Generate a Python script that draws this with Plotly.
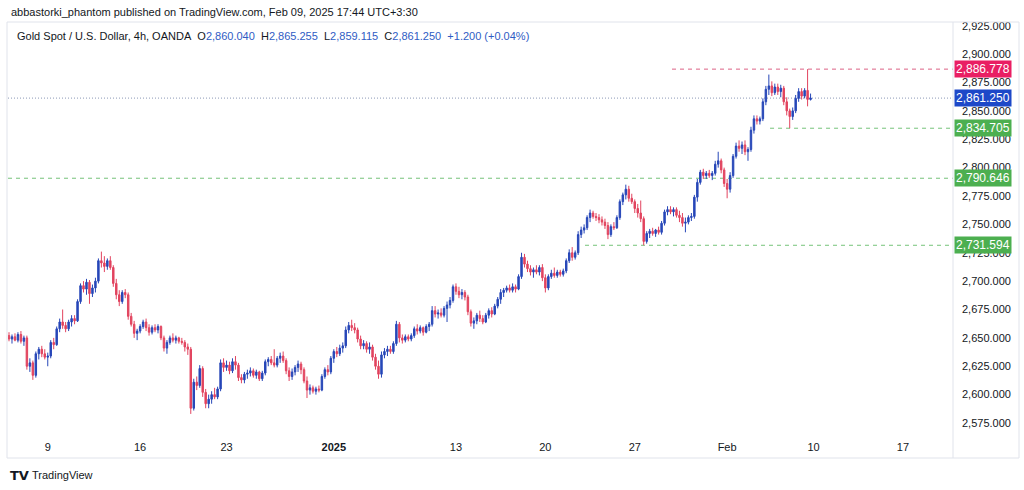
import plotly.graph_objects as go

# ---------------- data (4h bars) ----------------
opens = [
    2652, 2649, 2651, 2648, 2653, 2647, 2650, 2625, 2628, 2617,
    2636, 2640, 2636, 2633, 2634, 2646, 2644, 2658, 2664, 2661,
    2658, 2664, 2667, 2665, 2682, 2696, 2693, 2699, 2689, 2694,
    2700, 2718, 2716, 2713, 2718, 2712, 2698, 2688, 2682, 2690,
    2688, 2669, 2662, 2654, 2656, 2660, 2664, 2659, 2655, 2659,
    2657, 2660, 2650, 2641, 2646, 2650, 2648, 2650, 2647, 2646,
    2642, 2640, 2588, 2611, 2608, 2623, 2602, 2592, 2596, 2600,
    2598, 2605, 2628, 2624, 2626, 2621, 2629, 2626, 2615, 2613,
    2618, 2619, 2621, 2617, 2620, 2614, 2619, 2629, 2631, 2628,
    2626, 2632, 2634, 2630, 2621, 2616, 2620, 2624, 2627, 2622,
    2612, 2604, 2606, 2603, 2605, 2604, 2616, 2622, 2620, 2632,
    2638, 2636, 2641, 2643, 2657, 2661, 2659, 2657, 2649, 2643,
    2645, 2640, 2642, 2633, 2625, 2618, 2635, 2638, 2640, 2638,
    2645, 2662, 2650, 2648, 2651, 2649, 2652, 2658, 2656, 2659,
    2655, 2660, 2662, 2674, 2671, 2672, 2670, 2676, 2679, 2683,
    2695, 2691, 2688, 2690, 2686, 2673, 2663, 2665, 2670, 2667,
    2664, 2670, 2674, 2671, 2678, 2684, 2690, 2692, 2694, 2692,
    2695, 2693, 2704, 2721, 2715, 2711, 2708, 2710, 2708, 2712,
    2703, 2694, 2704, 2707, 2705, 2708, 2706, 2709, 2718, 2725,
    2721, 2725, 2741, 2745, 2747, 2756, 2760, 2757, 2756, 2754,
    2752, 2749, 2741, 2748, 2747, 2756, 2770, 2776, 2781, 2773,
    2770, 2764, 2760, 2755, 2735, 2742, 2744, 2742, 2745, 2743,
    2751, 2761, 2763, 2761, 2763, 2758, 2756, 2751, 2752, 2756,
    2757, 2774, 2787, 2796, 2793, 2795, 2793, 2795, 2803, 2806,
    2798, 2786, 2781, 2793, 2810, 2819, 2817, 2820, 2814, 2816,
    2833, 2843, 2841, 2843, 2858, 2869, 2872, 2866, 2871, 2867,
    2870, 2858, 2850, 2845, 2850, 2861, 2867, 2863, 2868, 2860.040,
]
highs = [
    2655, 2653, 2654, 2655, 2656, 2652, 2652, 2632, 2630, 2638,
    2642, 2643, 2640, 2637, 2648, 2650, 2660, 2667, 2675, 2664,
    2666, 2670, 2670, 2684, 2698, 2700, 2702, 2701, 2697, 2703,
    2720, 2726, 2722, 2720, 2722, 2714, 2702, 2692, 2692, 2693,
    2690, 2672, 2665, 2658, 2662, 2666, 2667, 2662, 2661, 2662,
    2662, 2661, 2652, 2648, 2652, 2654, 2652, 2651, 2650, 2648,
    2645, 2642, 2614, 2616, 2626, 2625, 2605, 2600, 2603, 2606,
    2607, 2631, 2632, 2630, 2629, 2632, 2634, 2628, 2618, 2620,
    2622, 2624, 2623, 2622, 2621, 2621, 2631, 2633, 2634, 2640,
    2634, 2637, 2638, 2632, 2624, 2623, 2626, 2630, 2629, 2624,
    2616, 2609, 2608, 2607, 2608, 2618, 2624, 2626, 2634, 2640,
    2642, 2644, 2646, 2660, 2664, 2666, 2663, 2659, 2652, 2648,
    2647, 2646, 2644, 2636, 2630, 2638, 2641, 2643, 2643, 2647,
    2665, 2664, 2653, 2653, 2653, 2654, 2660, 2662, 2661, 2660,
    2662, 2664, 2678, 2678, 2675, 2676, 2678, 2682, 2686, 2697,
    2698, 2695, 2693, 2692, 2688, 2675, 2668, 2672, 2674, 2670,
    2672, 2676, 2677, 2680, 2686, 2693, 2694, 2696, 2697, 2698,
    2697, 2706, 2725, 2724, 2718, 2714, 2712, 2714, 2714, 2715,
    2706, 2706, 2710, 2712, 2710, 2710, 2711, 2720, 2728, 2730,
    2727, 2744, 2748, 2750, 2758, 2763, 2762, 2760, 2759, 2757,
    2755, 2752, 2750, 2752, 2758, 2772, 2778, 2785, 2784, 2777,
    2772, 2768, 2771, 2757, 2744, 2746, 2747, 2746, 2748, 2753,
    2763, 2766, 2766, 2765, 2765, 2762, 2760, 2756, 2758, 2760,
    2776, 2790, 2798, 2799, 2797, 2798, 2797, 2806, 2814, 2808,
    2800, 2790, 2796, 2812, 2822, 2824, 2823, 2824, 2818, 2836,
    2846, 2846, 2845, 2861, 2872, 2882, 2876, 2874, 2874, 2873,
    2872, 2862, 2852, 2853, 2864, 2870, 2870, 2870, 2886.778, 2865.255,
]
lows = [
    2647, 2645, 2647, 2646, 2645, 2643, 2622, 2620, 2613, 2615,
    2631, 2633, 2631, 2625, 2632, 2640, 2643, 2655, 2658, 2655,
    2656, 2660, 2662, 2664, 2680, 2690, 2688, 2680, 2686, 2690,
    2698, 2712, 2708, 2710, 2710, 2695, 2684, 2678, 2680, 2685,
    2666, 2660, 2650, 2648, 2654, 2658, 2656, 2652, 2653, 2655,
    2654, 2648, 2638, 2636, 2644, 2646, 2645, 2645, 2644, 2638,
    2635, 2583, 2586, 2604, 2606, 2598, 2588, 2588, 2592, 2596,
    2596, 2603, 2620, 2621, 2618, 2619, 2622, 2612, 2610, 2610,
    2614, 2616, 2615, 2614, 2612, 2612, 2617, 2625, 2626, 2624,
    2624, 2628, 2628, 2618, 2612, 2613, 2617, 2620, 2618, 2610,
    2597, 2600, 2601, 2600, 2602, 2603, 2614, 2617, 2618, 2628,
    2633, 2634, 2637, 2641, 2654, 2656, 2654, 2646, 2640, 2640,
    2637, 2636, 2630, 2622, 2614, 2615, 2632, 2634, 2636, 2636,
    2643, 2646, 2645, 2646, 2647, 2647, 2650, 2653, 2654, 2652,
    2654, 2656, 2660, 2668, 2667, 2668, 2668, 2664, 2676, 2681,
    2688, 2685, 2684, 2683, 2670, 2660, 2658, 2662, 2664, 2662,
    2663, 2667, 2668, 2670, 2676, 2680, 2686, 2690, 2690, 2690,
    2690, 2692, 2702, 2712, 2708, 2705, 2703, 2706, 2705, 2700,
    2690, 2692, 2702, 2703, 2703, 2704, 2704, 2707, 2716, 2718,
    2719, 2723, 2738, 2742, 2745, 2752, 2755, 2753, 2751, 2749,
    2746, 2737, 2739, 2745, 2746, 2754, 2767, 2772, 2770, 2768,
    2760, 2756, 2752, 2731.594, 2733, 2738, 2740, 2739, 2741, 2741,
    2749, 2758, 2759, 2757, 2756, 2752, 2748, 2743, 2750, 2753,
    2755, 2770, 2785, 2790, 2790, 2791, 2789, 2793, 2800, 2795,
    2783, 2773, 2778, 2791, 2808, 2814, 2812, 2811, 2806, 2814,
    2830, 2838, 2838, 2841, 2855, 2864, 2863, 2864, 2864, 2862,
    2855, 2846, 2834.705, 2842, 2848, 2858, 2860, 2861, 2854, 2859.115,
]
closes = [
    2649, 2651, 2648, 2653, 2647, 2650, 2625, 2628, 2617, 2636,
    2640, 2636, 2633, 2634, 2646, 2644, 2658, 2664, 2661, 2658,
    2664, 2667, 2665, 2682, 2696, 2693, 2699, 2689, 2694, 2700,
    2718, 2716, 2713, 2718, 2712, 2698, 2688, 2682, 2690, 2688,
    2669, 2662, 2654, 2656, 2660, 2664, 2659, 2655, 2659, 2657,
    2660, 2650, 2641, 2646, 2650, 2648, 2650, 2647, 2646, 2642,
    2640, 2588, 2611, 2608, 2623, 2602, 2592, 2596, 2600, 2598,
    2605, 2628, 2624, 2626, 2621, 2629, 2626, 2615, 2613, 2618,
    2619, 2621, 2617, 2620, 2614, 2619, 2629, 2631, 2628, 2626,
    2632, 2634, 2630, 2621, 2616, 2620, 2624, 2627, 2622, 2612,
    2604, 2606, 2603, 2605, 2604, 2616, 2622, 2620, 2632, 2638,
    2636, 2641, 2643, 2657, 2661, 2659, 2657, 2649, 2643, 2645,
    2640, 2642, 2633, 2625, 2618, 2635, 2638, 2640, 2638, 2645,
    2662, 2650, 2648, 2651, 2649, 2652, 2658, 2656, 2659, 2655,
    2660, 2662, 2674, 2671, 2672, 2670, 2676, 2679, 2683, 2695,
    2691, 2688, 2690, 2686, 2673, 2663, 2665, 2670, 2667, 2664,
    2670, 2674, 2671, 2678, 2684, 2690, 2692, 2694, 2692, 2695,
    2693, 2704, 2721, 2715, 2711, 2708, 2710, 2708, 2712, 2703,
    2694, 2704, 2707, 2705, 2708, 2706, 2709, 2718, 2725, 2721,
    2725, 2741, 2745, 2747, 2756, 2760, 2757, 2756, 2754, 2752,
    2749, 2741, 2748, 2747, 2756, 2770, 2776, 2781, 2773, 2770,
    2764, 2760, 2755, 2735, 2742, 2744, 2742, 2745, 2743, 2751,
    2761, 2763, 2761, 2763, 2758, 2756, 2751, 2752, 2756, 2757,
    2774, 2787, 2796, 2793, 2795, 2793, 2795, 2803, 2806, 2798,
    2786, 2781, 2793, 2810, 2819, 2817, 2820, 2814, 2816, 2833,
    2843, 2841, 2843, 2858, 2869, 2872, 2866, 2871, 2867, 2870,
    2858, 2850, 2845, 2850, 2861, 2867, 2863, 2868, 2860.05, 2861.25,
]
bar_index = list(range(len(closes)))

# time axis (bar index of each date label)
time_tick_bars = [13, 44, 73, 109, 150, 180, 210, 241, 270, 300]
time_tick_labels = ["9", "16", "23", "<b>2025</b>", "13", "20", "27", "Feb", "10", "17"]

# price axis ticks
price_ticks = [2575, 2600, 2625, 2650, 2675, 2700, 2725, 2750,
               2775, 2800, 2825, 2850, 2875, 2900, 2925]

# horizontal levels drawn on the chart (value, first bar of the line)
level_values = [2886.778, 2861.250, 2834.705, 2790.646, 2731.594]
level_start_bars = [222.5, None, 255.4, None, 193.3]
level_kinds = ["pink", "last", "green", "green", "green"]

# ---------------- styles ----------------
UP = "#2747b8"
DOWN = "#e2445f"
FONT = "Liberation Sans, Arial, sans-serif"
TXT = "#131722"
line_style = {
    "pink": dict(color="rgba(214,70,110,0.85)", width=1, dash="4px,4px"),
    "green": dict(color="rgba(102,187,106,0.9)", width=1, dash="4px,4px"),
    "last": dict(color="rgba(120,134,170,0.85)", width=1, dash="1px,2px"),
}
label_bg = {"pink": "#e91e63", "last": "#1d48c8", "green": "#4caf50"}

W_FIG, H_FIG = 1024, 490
L, R, T, B = 8, 71, 22, 57
PW = W_FIG - L - R
PH = H_FIG - T - B
x_range = [-0.34, 316.8]
y_range = [2566.2, 2928.3]


def px_x(px):
    return (px - L) / PW


def px_y(py):
    return (H_FIG - B - py) / PH


fig = go.Figure()
fig.add_trace(go.Candlestick(
    x=bar_index, open=opens, high=highs, low=lows, close=closes,
    increasing=dict(line=dict(color=UP, width=1), fillcolor=UP),
    decreasing=dict(line=dict(color=DOWN, width=1), fillcolor=DOWN),
    whiskerwidth=0, hoverinfo="skip", showlegend=False,
))

shapes = []
annotations = []
for v, s, k in zip(level_values, level_start_bars, level_kinds):
    shapes.append(dict(type="line", xref="x", yref="y",
                       x0=x_range[0] if s is None else s, x1=x_range[1],
                       y0=v, y1=v, line=line_style[k], layer="below"))
    annotations.append(dict(xref="paper", yref="y", x=1, y=v, xanchor="left",
                            yanchor="middle", xshift=1, showarrow=False,
                            text=f"{v:,.3f}", bgcolor=label_bg[k], borderpad=1,
                            font=dict(family=FONT, size=12, color="white")))

# frame lines
shapes.append(dict(type="line", xref="paper", yref="paper", x0=1, x1=1,
                   y0=px_y(458), y1=1, line=dict(color="#e0e3eb", width=1)))
shapes.append(dict(type="rect", xref="paper", yref="paper",
                   x0=px_x(7), x1=px_x(1019), y0=px_y(458), y1=1,
                   line=dict(color="#e0e3eb", width=1), fillcolor="rgba(0,0,0,0)"))

# header texts
annotations.append(dict(xref="paper", yref="paper", x=px_x(9), y=px_y(12),
                        xanchor="left", yanchor="middle", showarrow=False,
                        text="abbastorki_phantom published on TradingView.com, Feb 09, 2025 17:44 UTC+3:30",
                        font=dict(family=FONT, size=11, color=TXT)))
VAL = "#2f5cc4"
o, h, l, c = opens[-1], highs[-1], lows[-1], closes[-1]
chg = c - closes[-2]
legend_txt = (
    "Gold Spot / U.S. Dollar, 4h, OANDA&nbsp;&nbsp;"
    f"O<span style='color:{VAL}'>{o:,.3f}</span>&nbsp;&nbsp;"
    f"H<span style='color:{VAL}'>{h:,.3f}</span>&nbsp;&nbsp;"
    f"L<span style='color:{VAL}'>{l:,.3f}</span>&nbsp;&nbsp;"
    f"C<span style='color:{VAL}'>{c:,.3f}</span>&nbsp;&nbsp;"
    f"<span style='color:{VAL}'>{chg:+.3f} ({chg / closes[-2] * 100:+.2f}%)</span>"
)
annotations.append(dict(xref="paper", yref="paper", x=px_x(15), y=px_y(36),
                        xanchor="left", yanchor="middle", showarrow=False,
                        text=legend_txt, font=dict(family=FONT, size=11, color=TXT)))
annotations.append(dict(xref="paper", yref="paper", x=px_x(8), y=px_y(475),
                        xanchor="left", yanchor="middle", showarrow=False,
                        text="<b>TV</b>",
                        font=dict(family="DejaVu Sans", size=13, color="#131722")))
annotations.append(dict(xref="paper", yref="paper", x=px_x(30), y=px_y(475),
                        xanchor="left", yanchor="middle", showarrow=False,
                        text="TradingView",
                        font=dict(family=FONT, size=11, color="#131722")))

fig.update_layout(
    width=W_FIG, height=H_FIG,
    margin=dict(l=L, r=R, t=T, b=B),
    paper_bgcolor="white", plot_bgcolor="white",
    font=dict(family=FONT, size=11, color=TXT),
    shapes=shapes, annotations=annotations,
    showlegend=False,
    xaxis=dict(range=x_range, rangeslider=dict(visible=False),
               tickmode="array", tickvals=time_tick_bars, ticktext=time_tick_labels,
               showgrid=False, zeroline=False, showline=False, ticks="",
               ticklabelstandoff=6,
               tickfont=dict(family=FONT, size=11, color=TXT), fixedrange=True),
    yaxis=dict(range=y_range, side="right", tickmode="array", tickvals=price_ticks,
               tickformat=",.3f", showgrid=False, zeroline=False, showline=False,
               ticks="", ticklabelstandoff=8,
               tickfont=dict(family=FONT, size=11, color=TXT), fixedrange=True),
)

fig.write_html("out.html", config={"displayModeBar": False},
               post_script="document.body.style.margin='0';")
